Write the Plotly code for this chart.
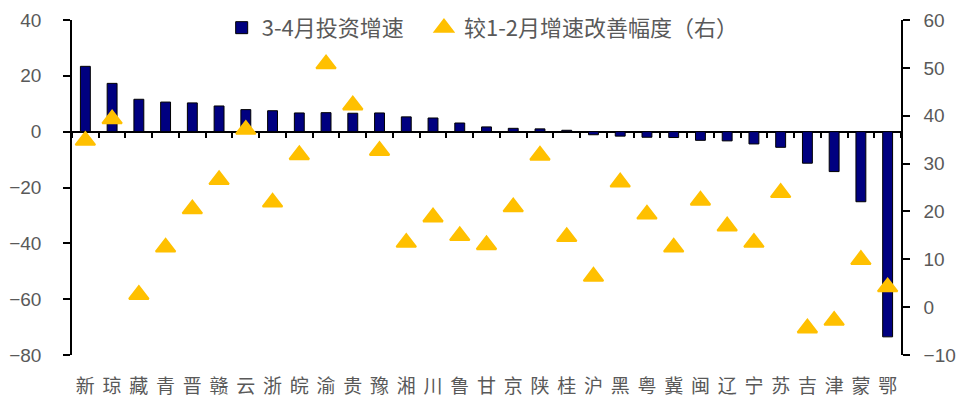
import plotly.graph_objects as go

# Provinces, sorted by March-April investment growth
provinces = ["新", "琼", "藏", "青", "晋", "赣", "云", "浙", "皖", "渝", "贵",
             "豫", "湘", "川", "鲁", "甘", "京", "陕", "桂", "沪", "黑", "粤",
             "冀", "闽", "辽", "宁", "苏", "吉", "津", "蒙", "鄂"]

# 3-4月投资增速 (%, left axis)
growth_mar_apr = [23.4, 17.3, 11.6, 10.6, 10.3, 9.2, 7.9, 7.5, 6.7, 6.8, 6.6,
                  6.7, 5.3, 4.9, 3.1, 1.7, 1.2, 1.0, 0.5, -1.1, -1.6, -2.0,
                  -2.1, -3.1, -3.3, -4.4, -5.6, -11.3, -14.3, -25.1, -73.5]

# 较1-2月增速改善幅度 (pct pts, right axis)
improvement = [34.8, 39.3, 2.6, 12.5, 20.5, 26.6, 37.1, 21.9, 31.8, 50.8, 42.2,
               32.7, 13.5, 18.8, 14.9, 13.0, 20.9, 31.7, 14.7, 6.4, 26.1, 19.4,
               12.5, 22.3, 16.9, 13.5, 23.9, -4.4, -2.8, 9.9, 4.2]

left_range = [-80, 40]
right_range = [-10, 60]

axis_grey = "#595959"
num_font = "Liberation Sans, Arial, sans-serif"
cjk_font = "Noto Sans CJK SC, Liberation Sans, sans-serif"

fig = go.Figure()

fig.add_trace(go.Bar(
    x=provinces, y=growth_mar_apr, name="3-4月投资增速",
    marker=dict(color="#000080", line=dict(color="#000000", width=1)),
    width=0.37, xaxis="x", yaxis="y", legend="legend",
))

fig.add_trace(go.Scatter(
    x=provinces, y=improvement, name="较1-2月增速改善幅度（右）",
    mode="markers",
    marker=dict(symbol="triangle-up", size=17, color="#FFC000",
                line=dict(color="#FFC000", width=2)),
    xaxis="x", yaxis="y2", legend="legend2",
))

# Placeholder trace so the zero-line axis knows the categories
fig.add_trace(go.Scatter(
    x=provinces, y=[None] * len(provinces), mode="markers",
    showlegend=False, hoverinfo="skip", xaxis="x2", yaxis="y",
))

zero_pos = (0 - left_range[0]) / (left_range[1] - left_range[0])

legend_style = dict(orientation="h", xref="container", yref="container",
                    y=0.93, xanchor="left", yanchor="middle",
                    font=dict(family=cjk_font, size=22, color=axis_grey),
                    bgcolor="rgba(0,0,0,0)", itemwidth=30)

fig.update_layout(
    width=968, height=398,
    margin=dict(l=72, r=67, t=20, b=43, autoexpand=False),
    paper_bgcolor="white", plot_bgcolor="white",
    showlegend=True,
    legend=dict(legend_style, x=0.229),
    legend2=dict(legend_style, x=0.438),
    xaxis=dict(type="category", anchor="y", side="bottom", automargin=False,
               showline=False, showgrid=False, zeroline=False, ticks="",
               tickfont=dict(family=cjk_font, size=19, color=axis_grey),
               ticklabelstandoff=18, range=[-0.5, len(provinces) - 0.5]),
    xaxis2=dict(type="category", overlaying="x", matches="x", anchor="free",
                position=zero_pos, showticklabels=False, showgrid=False,
                zeroline=False, showline=True, linecolor="#000000", linewidth=1.5,
                ticks="outside", ticklen=6, tickwidth=1.5, tickcolor="#000000",
                tickson="boundaries", layer="below traces", automargin=False),
    yaxis=dict(range=left_range, dtick=20, showgrid=False, zeroline=False,
               automargin=False,
               showline=True, linecolor="#000000", linewidth=1.5,
               ticks="outside", ticklen=7, tickwidth=1.5, tickcolor="#000000",
               tickfont=dict(family=num_font, size=19, color=axis_grey),
               ticklabelstandoff=18),
    yaxis2=dict(range=right_range, dtick=10, overlaying="y", side="right",
                showgrid=False, zeroline=False, automargin=False,
                showline=True, linecolor="#000000", linewidth=1.5,
                ticks="outside", ticklen=7, tickwidth=1.5, tickcolor="#000000",
                tickfont=dict(family=num_font, size=19, color=axis_grey),
                ticklabelstandoff=10),
)

fig.write_html("out.html")
